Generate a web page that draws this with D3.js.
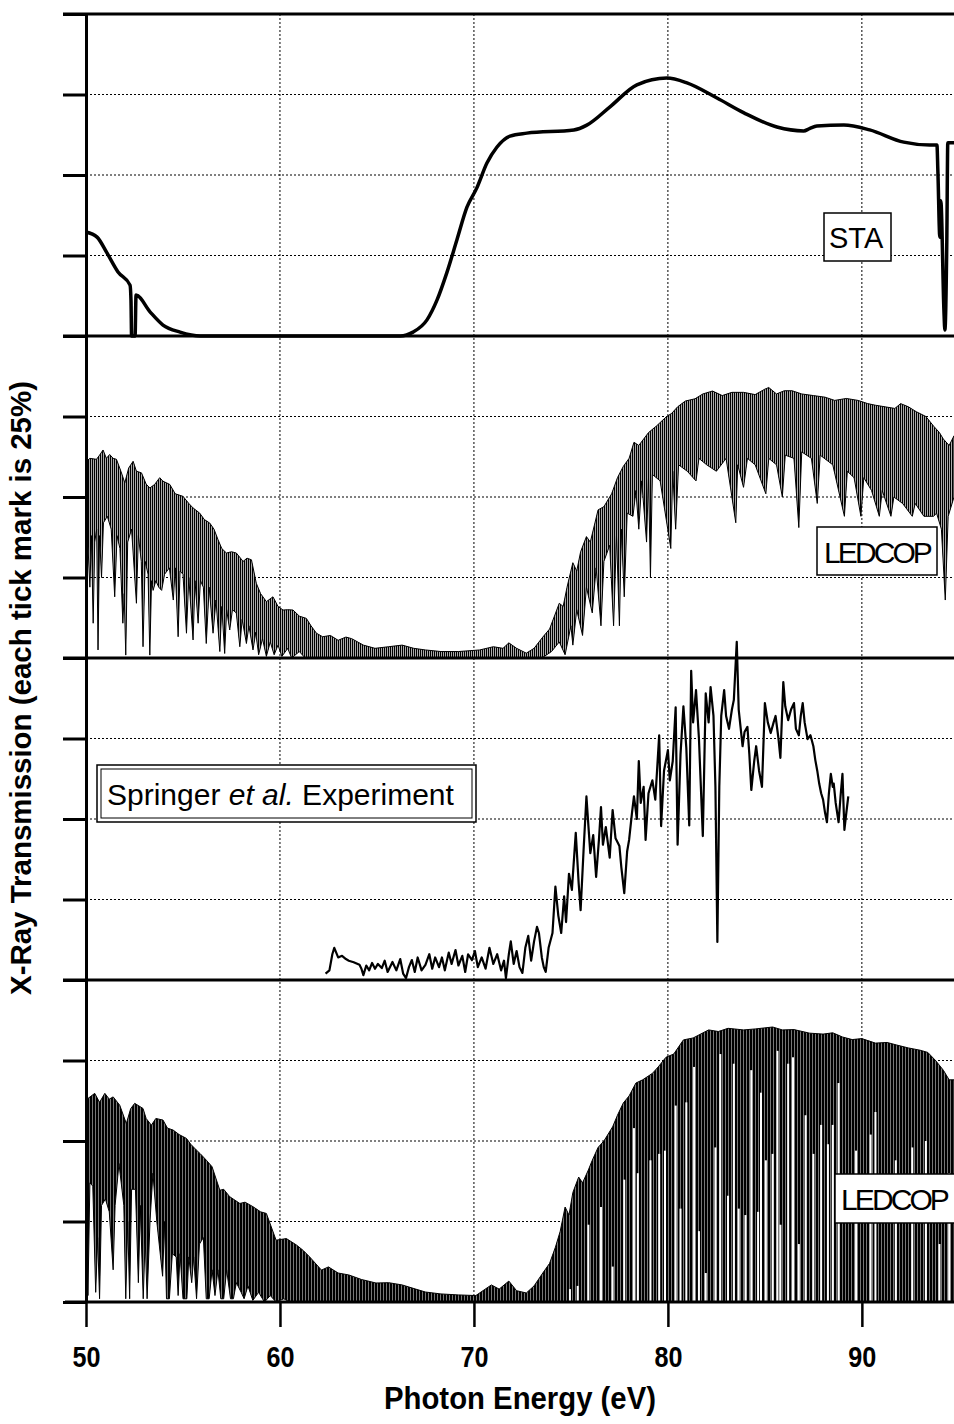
<!DOCTYPE html>
<html>
<head>
<meta charset="utf-8">
<script src="https://cdn.jsdelivr.net/npm/d3@7"></script>
<style>
body { margin: 0; background: #fff; }
.grid line { stroke: #000; stroke-width: 1; stroke-dasharray: 2,2; }
.frame { stroke: #000; stroke-width: 3; }
.yaxis .domain, .yaxis line { stroke: #000; stroke-width: 3; }
.xaxis line { stroke: #000; stroke-width: 2.5; }
.xaxis text, .title { font-family: "Liberation Sans Narrow", "Arial Narrow", "Liberation Sans", sans-serif; font-weight: bold; fill: #000; }
.boxlabel { font-family: "Liberation Sans", Arial, sans-serif; font-size: 30px; fill: #000; }
</style>
</head>
<body>
<div id="chart"></div>
<script>
// ---- data (photon energy in eV, transmission in %) ----
var xTicks = [50, 60, 70, 80, 90];
var yTicks = [0, 25, 50, 75, 100];
var panelNames = ["STA", "LEDCOP", "Springer et al. Experiment", "LEDCOP"];

var staData = [
  [50.0, 32.3], [50.57, 30.7], [51.08, 25.8], [51.65, 19.9], [52.27, 15.8], [52.32, 11], [52.35, 0],
  [52.53, 0], [52.58, 12.7], [53.3, 7.5], [53.97, 3.4], [54.85, 1.2], [55.9, 0], [66.2, 0],
  [66.86, 1.2], [67.58, 5], [68.1, 11.2], [68.6, 19.6], [69.12, 29.8], [69.64, 40], [70.15, 46],
  [70.67, 53.7], [71.19, 58.7], [71.86, 62.1], [72.73, 63], [75.15, 64], [75.82, 65.5], [77.0, 71.1],
  [78.4, 78], [79.95, 80.1], [80.98, 78.6], [82.53, 73.9], [83.92, 69.3], [85.62, 64.9], [87.0, 63.7],
  [87.3, 64.4], [87.68, 65.2], [89.07, 65.5], [90.4, 64], [92.16, 60.2], [93.5, 59.3], [93.87, 59.3],
  [93.92, 51], [94.02, 30.7], [94.07, 42], [94.23, 8], [94.28, 1.9], [94.38, 30], [94.43, 60], [94.75, 60]
];

// LEDCOP (upper panel): upper envelope and lower envelope of the dense line spectrum
var ledcopTop1 = [
  [50.0, 61], [50.2, 62], [50.54, 61.7], [50.7, 63], [50.88, 64.6], [51.05, 62], [51.22, 63.2], [51.4, 62],
  [51.57, 61.7], [51.8, 58], [52.0, 54.4], [52.2, 59], [52.43, 61.1], [52.6, 58], [52.86, 57.5], [53.1, 54],
  [53.29, 52.8], [53.54, 53.9], [53.8, 56], [53.97, 54.9], [54.32, 53.9], [54.6, 51], [55.0, 50.2], [55.3, 48],
  [55.52, 46.6], [55.86, 45], [56.1, 43], [56.38, 41.9], [56.6, 40], [56.81, 36.7], [57.0, 34], [57.24, 32.6],
  [57.5, 33], [57.75, 32.6], [58.1, 30], [58.3, 31], [58.53, 30.5], [58.78, 23.2], [59.0, 20], [59.3, 17.5],
  [59.64, 19], [59.9, 16], [60.16, 14.9], [60.4, 15], [60.67, 14.9], [61.0, 13], [61.36, 12.3], [61.6, 10],
  [61.88, 7.7], [62.2, 6.6], [62.6, 7], [63.0, 5.5], [63.4, 6.5], [63.7, 6], [64.3, 4], [64.9, 3], [65.6, 3.5],
  [66.3, 4], [66.9, 3], [67.5, 2.5], [68.3, 2], [69.2, 2], [70.3, 2.5], [71.0, 3.5], [71.5, 3], [71.8, 4.7],
  [72.2, 3], [72.7, 1.5], [73.1, 3], [73.55, 6.5], [73.9, 9], [74.4, 17], [74.6, 16], [74.8, 22], [75.1, 29.6],
  [75.3, 27], [75.5, 33], [75.8, 37.7], [76.0, 36], [76.4, 46], [76.7, 47], [77.1, 51], [77.4, 56], [77.7, 59.5],
  [78.0, 62], [78.25, 67], [78.5, 66], [79.0, 70], [79.4, 72], [79.9, 74.8], [80.2, 76], [80.5, 78], [80.9, 79.8],
  [81.4, 80.5], [81.8, 82], [82.3, 82.9], [82.8, 81.5], [83.3, 82.5], [83.9, 82.5], [84.5, 81.8], [85.0, 83.5],
  [85.2, 84], [85.6, 82], [86.0, 83], [86.4, 83], [86.9, 82], [87.5, 81.5], [88.1, 81], [88.6, 80], [89.2, 80.6],
  [89.8, 80], [90.3, 79], [90.7, 78.5], [91.2, 78], [91.7, 77.5], [92.0, 79], [92.4, 78], [92.8, 76.5],
  [93.3, 75], [93.7, 72], [94.0, 70], [94.2, 68], [94.5, 66], [94.75, 69]
];
var ledcopFloor1 = [
  [50.0, 40], [50.1, 35], [50.2, 22], [50.28, 38], [50.37, 10.8], [50.45, 36], [50.55, 40], [50.62, 2.5],
  [50.7, 38], [50.8, 25], [50.9, 42], [51.1, 44], [51.3, 40], [51.48, 19], [51.6, 38], [51.75, 34], [51.9, 10.8],
  [51.97, 20], [52.05, 0.9], [52.15, 36], [52.35, 40], [52.6, 17], [52.7, 38], [52.85, 30], [52.94, 3.5],
  [53.05, 30], [53.2, 26], [53.29, 0.9], [53.38, 24], [53.46, 21], [53.6, 24], [53.75, 22], [53.9, 21],
  [54.05, 26], [54.3, 28], [54.5, 18], [54.6, 28], [54.75, 6.6], [54.85, 27], [55.0, 26], [55.18, 7.7],
  [55.3, 25], [55.52, 5.6], [55.62, 24], [55.78, 10.8], [55.9, 24], [56.05, 22], [56.2, 4.5], [56.35, 22],
  [56.55, 7.7], [56.7, 18], [56.9, 2], [57.0, 16], [57.15, 1.4], [57.25, 15], [57.41, 8.7], [57.55, 15],
  [57.75, 14], [57.93, 3.5], [58.05, 12], [58.27, 4.5], [58.4, 10], [58.61, 2.5], [58.75, 8], [58.9, 1],
  [59.1, 6], [59.3, 0.5], [59.5, 5], [59.7, 1], [59.9, 4], [60.1, 0.5], [60.4, 3], [60.6, 0], [61.0, 2],
  [61.3, 0], [73.5, 0], [74.0, 2], [74.4, 5], [74.7, 1], [75.0, 10], [75.1, 4], [75.3, 15], [75.6, 7],
  [75.8, 22], [76.1, 14], [76.3, 28], [76.55, 10], [76.7, 30], [77.0, 35], [77.2, 10], [77.35, 38], [77.5, 10],
  [77.6, 40], [77.75, 19], [77.9, 45], [78.2, 44], [78.35, 52], [78.5, 40], [78.65, 55], [78.9, 36], [79.0, 56],
  [79.1, 25], [79.2, 57], [79.6, 55], [80.15, 34], [80.25, 58], [80.4, 40], [80.55, 60], [81.0, 58], [81.45, 55],
  [81.6, 62], [82.0, 60], [82.5, 58], [83.0, 62], [83.5, 42], [83.6, 60], [83.9, 53], [84.1, 62], [84.5, 60],
  [85.05, 51], [85.2, 62], [85.6, 60], [85.9, 50], [86.05, 63], [86.5, 62], [86.75, 40.5], [86.9, 64],
  [87.4, 62], [87.7, 48], [87.85, 63], [88.5, 60], [89.1, 44], [89.25, 58], [89.6, 56], [89.95, 44], [90.1, 56],
  [90.5, 52], [90.9, 44], [91.05, 52], [91.5, 44], [91.65, 50], [92.1, 48], [92.6, 44], [92.75, 48], [93.2, 44],
  [93.7, 44], [93.85, 45], [94.1, 40], [94.3, 18], [94.45, 44], [94.75, 50]
];

var springerData = [
  [62.35, 2], [62.55, 3], [62.7, 8], [62.8, 10], [62.9, 8.5], [63.0, 7], [63.2, 7.5], [63.4, 6.5], [63.55, 6],
  [63.8, 5.5], [64.1, 4.7], [64.2, 3.5], [64.3, 1.5], [64.45, 4.5], [64.6, 3], [64.75, 5.3], [64.9, 3.5],
  [65.05, 5], [65.25, 3.7], [65.4, 6], [65.55, 2.5], [65.8, 5.6], [66.0, 3], [66.2, 6.5], [66.35, 2], [66.5, 0.6],
  [66.65, 4], [66.8, 6.2], [66.95, 2.5], [67.1, 7], [67.3, 3], [67.5, 4.7], [67.7, 8], [67.85, 3.5], [68.0, 7],
  [68.2, 4], [68.35, 7], [68.5, 3], [68.7, 8.5], [68.85, 5], [69.05, 9.3], [69.2, 4.5], [69.4, 7.5], [69.55, 2.5],
  [69.7, 8], [69.9, 6.2], [70.05, 9], [70.2, 4], [70.4, 7], [70.6, 3.5], [70.8, 10], [71.0, 5], [71.2, 8],
  [71.4, 3], [71.55, 6], [71.65, 0.6], [71.8, 8], [71.9, 12], [72.05, 5], [72.2, 9], [72.35, 4], [72.5, 2.2],
  [72.65, 10], [72.8, 13.7], [72.95, 6], [73.1, 12], [73.25, 16.5], [73.35, 14.6], [73.5, 7], [73.6, 4],
  [73.7, 2.5], [73.85, 10], [74.05, 14.6], [74.2, 29], [74.35, 20], [74.5, 14.6], [74.65, 26], [74.75, 18],
  [74.9, 33], [75.05, 28], [75.25, 45.7], [75.4, 30], [75.5, 21.7], [75.65, 40], [75.8, 57], [75.9, 48],
  [76.0, 39.4], [76.15, 45], [76.3, 32], [76.45, 44], [76.55, 53.7], [76.65, 42], [76.8, 47.5], [77.0, 38],
  [77.15, 52.8], [77.3, 44], [77.5, 41.6], [77.6, 35], [77.75, 27], [77.9, 40], [78.0, 43.5], [78.15, 52],
  [78.25, 57], [78.4, 50], [78.5, 68], [78.6, 55], [78.75, 60], [78.85, 43.5], [79.0, 58], [79.2, 62],
  [79.35, 56], [79.55, 76], [79.65, 47.8], [79.8, 65], [80.0, 71.4], [80.1, 62], [80.25, 68], [80.4, 84.7],
  [80.5, 42], [80.65, 70], [80.8, 85], [80.95, 72], [81.1, 48], [81.2, 96], [81.3, 80], [81.45, 90], [81.6, 75],
  [81.8, 44.7], [81.95, 89], [82.1, 80], [82.2, 91], [82.35, 82], [82.45, 60], [82.55, 11.8], [82.65, 60],
  [82.75, 82], [82.9, 90], [83.0, 82], [83.15, 78], [83.3, 84], [83.4, 87], [83.55, 105], [83.65, 84],
  [83.85, 72.6], [83.95, 77], [84.1, 78.6], [84.2, 70], [84.3, 59], [84.45, 68], [84.55, 72.6], [84.7, 65],
  [84.85, 60], [85.0, 86], [85.15, 80], [85.3, 76.7], [85.45, 80], [85.55, 82], [85.7, 75], [85.8, 69],
  [85.95, 92.5], [86.05, 85], [86.2, 80.7], [86.35, 84], [86.5, 86], [86.6, 78], [86.75, 76], [86.85, 82],
  [86.95, 86], [87.05, 80], [87.2, 74.8], [87.35, 76], [87.5, 72.6], [87.6, 68.3], [87.7, 65], [87.8, 61],
  [87.9, 58], [88.0, 56], [88.1, 52], [88.2, 49], [88.3, 58], [88.4, 64], [88.5, 60], [88.55, 61], [88.65, 55],
  [88.8, 49], [88.9, 57], [89.0, 64], [89.1, 46.6], [89.2, 52], [89.3, 57]
];

// LEDCOP (lower panel, finer resolution)
var ledcopTop2 = [
  [50.0, 63], [50.1, 63.2], [50.45, 64.8], [50.7, 62], [50.97, 64.8], [51.2, 63], [51.4, 63.7], [51.74, 61.1],
  [52.08, 55.4], [52.3, 60], [52.51, 61.7], [52.94, 60.1], [53.1, 57], [53.37, 54.9], [53.6, 57], [53.97, 56.5],
  [54.2, 54], [54.49, 53.4], [54.8, 52], [55.18, 50.8], [55.4, 49], [55.69, 47.2], [55.9, 46], [56.21, 44],
  [56.5, 42], [56.9, 34.7], [57.1, 35], [57.41, 32.7], [57.93, 30.6], [58.2, 31], [58.61, 29.6], [59.0, 28],
  [59.3, 27.5], [59.8, 19.2], [60.33, 19.7], [60.85, 17.7], [61.2, 16], [61.53, 14], [62.14, 9.9], [62.5, 10.9],
  [63.0, 9], [63.55, 8.4], [64.2, 7], [64.95, 5.9], [65.6, 6], [66.3, 5.3], [67.0, 4], [67.5, 3.1], [68.3, 2.5],
  [69.2, 2.2], [70.1, 2], [70.9, 5.3], [71.3, 4], [71.8, 6.5], [72.2, 3.5], [72.7, 2.8], [73.1, 5], [73.55, 9],
  [73.9, 12], [74.2, 17], [74.45, 22], [74.7, 29.5], [74.9, 27], [75.1, 34], [75.4, 38.8], [75.6, 37], [75.9, 41],
  [76.1, 44], [76.4, 48], [76.7, 50], [77.15, 54.4], [77.4, 58], [77.7, 61.8], [78.0, 64], [78.35, 68], [78.7, 69],
  [79.2, 71], [79.5, 73], [79.9, 76], [80.3, 77], [80.8, 81.4], [81.3, 82], [82.1, 84.5], [82.6, 84], [83.1, 85],
  [83.9, 84.5], [84.5, 84.8], [85.4, 85.4], [85.9, 84.5], [86.5, 84.6], [87.3, 83.5], [88.0, 83.2], [88.5, 83.6],
  [89.0, 82.3], [89.5, 81.5], [90.0, 81.8], [90.7, 80.4], [91.3, 80.6], [91.8, 79.8], [92.4, 78.9], [93.0, 78.2],
  [93.4, 77.5], [93.8, 75], [94.2, 72], [94.5, 69], [94.75, 69]
];
var ledcopFloor2 = [
  [50.0, 40], [50.1, 2], [50.2, 37], [50.35, 36], [50.5, 3], [50.6, 20], [50.7, 1], [50.8, 30], [51.0, 32],
  [51.2, 28], [51.4, 10], [51.5, 30], [51.7, 43], [51.95, 30], [52.05, 1], [52.15, 25], [52.25, 1], [52.35, 35],
  [52.55, 35], [52.7, 6], [52.8, 30], [52.95, 1], [53.05, 20], [53.15, 1], [53.3, 25], [53.45, 40], [53.65, 25],
  [53.95, 8], [54.05, 25], [54.15, 1], [54.3, 1], [54.45, 15], [54.65, 14], [54.75, 2], [54.85, 15], [55.0, 1],
  [55.2, 1], [55.3, 14], [55.45, 6], [55.55, 14], [55.7, 1], [55.85, 18], [56.05, 20], [56.2, 1], [56.35, 1],
  [56.5, 10], [56.65, 2], [56.8, 10], [56.95, 1], [57.1, 1], [57.25, 10], [57.45, 1], [57.6, 1], [57.75, 6],
  [58.0, 3], [58.15, 1], [58.35, 5], [58.6, 0.5], [58.9, 3], [59.2, 0], [59.5, 2], [59.8, 0], [60.2, 1],
  [60.5, 0], [73.5, 0], [94.75, 0]
];
// open windows between the absorption lines (energy, height reached)
var ledcopGaps2 = [
  [74.95, 4], [75.35, 5], [75.9, 24], [76.55, 29.5], [77.15, 11], [77.75, 38], [78.25, 54], [78.45, 40],
  [79.1, 44], [79.55, 46], [79.85, 47], [80.4, 61], [80.65, 29], [80.95, 62], [81.35, 73], [81.6, 22],
  [81.95, 9], [82.45, 48], [82.7, 77], [83.1, 33], [83.4, 74], [83.65, 29], [84.0, 27], [84.3, 72], [84.65, 28],
  [84.8, 65], [85.05, 44], [85.4, 46], [85.65, 78], [85.8, 24], [86.2, 74], [86.45, 76], [86.75, 18], [87.1, 58],
  [87.5, 46], [87.9, 55], [88.25, 49], [88.5, 55], [88.8, 68], [89.7, 47], [90.45, 52], [90.7, 59], [91.75, 44],
  [92.6, 48], [93.3, 50], [94.0, 18], [94.5, 40]
];

// ---- layout ----
var w = 954, h = 1424;
var panelTop = [14, 336, 658, 980];
var panelH = 322;
var axisLeft = 86;

var x = d3.scaleLinear().domain([50, 94.75]).range([axisLeft, w]);
var ys = panelTop.map(function(t) {
  return d3.scaleLinear().domain([0, 100]).range([t + panelH, t]);
});

var svg = d3.select("#chart")
  .append("svg")
    .attr("width", w)
    .attr("height", h);

// hatch patterns imitate the halftone of the dense spectra
var defs = svg.append("defs");
var pl = defs.append("pattern")
    .attr("id", "hatch")
    .attr("width", 2).attr("height", 2)
    .attr("patternUnits", "userSpaceOnUse");
pl.append("rect").attr("width", 2).attr("height", 2).attr("fill", "#aaa");
pl.append("rect").attr("width", 1).attr("height", 2).attr("fill", "#000");
var pd = defs.append("pattern")
    .attr("id", "hatchDark")
    .attr("width", 3).attr("height", 3)
    .attr("patternUnits", "userSpaceOnUse");
pd.append("rect").attr("width", 3).attr("height", 3).attr("fill", "#777");
pd.append("rect").attr("width", 2).attr("height", 3).attr("fill", "#000");

// <-- GRID -------------
var grid = svg.append("g").attr("class", "grid");
grid.selectAll(".vg")
  .data(xTicks.filter(function(d) { return d > 50; }))
  .enter().append("line")
    .attr("x1", function(d) { return x(d); })
    .attr("x2", function(d) { return x(d); })
    .attr("y1", ys[0](100))
    .attr("y2", ys[3](0));
ys.forEach(function(y) {
  grid.selectAll(null)
    .data(yTicks.filter(function(d) { return d > 0 && d < 100; }))
    .enter().append("line")
      .attr("x1", x(50))
      .attr("x2", w)
      .attr("y1", function(d) { return y(d); })
      .attr("y2", function(d) { return y(d); });
});
// -- GRID ------------->

function line(y) {
  return d3.line().x(function(d) { return x(d[0]); }).y(function(d) { return y(d[1]); });
}
// band between the upper and lower envelope of a spectrum
function band(y, top, floor) {
  return line(y)(top.concat(floor.slice().reverse())) + "Z";
}

// STA
svg.append("path")
    .attr("d", line(ys[0]).curve(d3.curveMonotoneX)(staData))
    .attr("fill", "none")
    .attr("stroke", "#000")
    .attr("stroke-width", 3.5)
    .attr("stroke-linejoin", "round");

// LEDCOP (2nd panel)
svg.append("path")
    .attr("d", band(ys[1], ledcopTop1, ledcopFloor1))
    .attr("fill", "url(#hatch)")
    .attr("stroke", "#000")
    .attr("stroke-width", 1);

// Springer et al.
svg.append("path")
    .attr("d", line(ys[2])(springerData))
    .attr("fill", "none")
    .attr("stroke", "#000")
    .attr("stroke-width", 2.2)
    .attr("stroke-linejoin", "round");

// LEDCOP (4th panel)
svg.append("path")
    .attr("d", band(ys[3], ledcopTop2, ledcopFloor2))
    .attr("fill", "url(#hatchDark)")
    .attr("stroke", "#000")
    .attr("stroke-width", 1);
svg.append("g")
  .selectAll("rect")
  .data(ledcopGaps2)
  .enter().append("rect")
    .attr("x", function(d) { return x(d[0]) - 1; })
    .attr("width", 2)
    .attr("y", function(d) { return ys[3](d[1]); })
    .attr("height", function(d) { return ys[3](0) - ys[3](d[1]); })
    .attr("fill", "#fff");

// <-- AXES -------------
ys.forEach(function(y) {
  svg.append("g")
      .attr("class", "yaxis")
      .attr("transform", "translate(" + axisLeft + ",0)")
      .call(d3.axisLeft(y).tickValues(yTicks).tickSize(23).tickSizeOuter(0).tickFormat(""));
});
// panel separators
svg.selectAll(".frame")
  .data(panelTop.concat([panelTop[3] + panelH]))
  .enter().append("line")
    .attr("class", "frame")
    .attr("x1", function(d, i) { return i == 4 ? 65 : 63; })
    .attr("x2", w)
    .attr("y1", function(d) { return d; })
    .attr("y2", function(d) { return d; });

var xaxis = svg.append("g")
    .attr("class", "xaxis")
    .attr("transform", "translate(0," + ys[3](0) + ")")
    .call(d3.axisBottom(x).tickValues(xTicks).tickSize(25).tickPadding(19).tickSizeOuter(0));
xaxis.select(".domain").remove();
xaxis.selectAll("text")
    .style("font-size", "30px")
    .attr("textLength", 28)
    .attr("lengthAdjust", "spacingAndGlyphs");

svg.append("text")
    .attr("class", "title")
    .attr("x", 520)
    .attr("y", 1409)
    .attr("text-anchor", "middle")
    .style("font-size", "31px")
    .attr("textLength", 272)
    .attr("lengthAdjust", "spacingAndGlyphs")
    .text("Photon Energy (eV)");

svg.append("text")
    .attr("class", "title")
    .attr("transform", "translate(31," + 688 + ") rotate(-90)")
    .attr("text-anchor", "middle")
    .style("font-size", "29px")
    .attr("textLength", 614)
    .attr("lengthAdjust", "spacingAndGlyphs")
    .text("X-Ray Transmission (each tick mark is 25%)");
// -- AXES ------------->

// <-- LABELS -------------
function boxLabel(bx, by, bw, bh, tx, ty, spacing, txt) {
  svg.append("rect")
      .attr("x", bx).attr("y", by).attr("width", bw).attr("height", bh)
      .attr("fill", "#fff").attr("stroke", "#000").attr("stroke-width", 1.5);
  return svg.append("text")
      .attr("class", "boxlabel")
      .attr("x", tx).attr("y", ty)
      .style("letter-spacing", spacing + "px")
      .text(txt);
}
boxLabel(824, 213, 67, 48, 829, 248, 0, panelNames[0]).style("font-size", "29px");
boxLabel(817, 527, 120, 48, 824, 563, -2.9, panelNames[1]);
boxLabel(835, 1174, 130, 49, 841, 1210, -2.9, panelNames[3]);

// double-framed box for the experiment
svg.append("rect")
    .attr("x", 97).attr("y", 765).attr("width", 379).attr("height", 57)
    .attr("fill", "#fff").attr("stroke", "#000").attr("stroke-width", 1.5);
svg.append("rect")
    .attr("x", 101).attr("y", 769).attr("width", 371).attr("height", 49)
    .attr("fill", "none").attr("stroke", "#000").attr("stroke-width", 1);
var sp = svg.append("text").attr("class", "boxlabel").attr("x", 107).attr("y", 805);
sp.append("tspan").text("Springer ");
sp.append("tspan").style("font-style", "italic").text("et al.");
sp.append("tspan").text(" Experiment");
// -- LABELS ------------->
</script>
</body>
</html>
